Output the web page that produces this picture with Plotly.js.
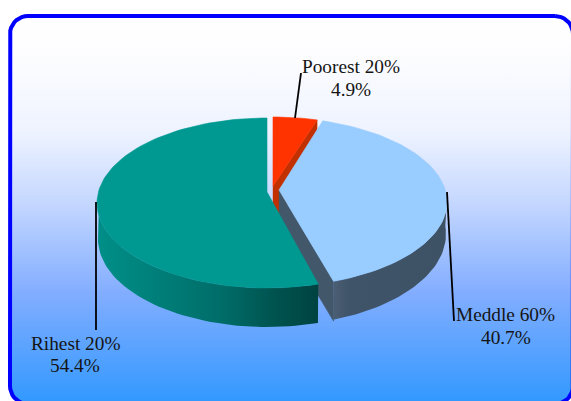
<!DOCTYPE html>
<html>
<head>
<meta charset="utf-8">
<script src="https://cdn.plot.ly/plotly-3.0.1.min.js"></script>
<style>html,body{margin:0;padding:0;background:#fff;overflow:hidden}#chart{width:571px;height:401px}</style>
</head>
<body>
<div id="chart"></div>
<script>
// Data
const categories = ['Poorest 20%', 'Meddle 60%', 'Rihest 20%'];
const shares = [4.9, 40.7, 54.4];

// Slice drawing styles and geometry (tilted pie on a chart plane matching the window)
const topColors = ['#ff3300', '#99ccff', '#009991'];
const centers = [[273, 202], [270, 202], [267, 203]];
const radii = [[170, 85], [177, 85], [170, 85]];
const floorCenters = [[273, 242], [270, 234], [267, 239]];
const floorRadii = [[170, 85], [176, 92], [169, 88]];
const vertices = [[273, 186], [279, 190], [267, 192]];
const angleNudgeStart = [0, -0.3, -1.7];
const angleNudgeEnd = [-2.6, -5.2, 0];
const depth = 40;

const labelCenters = [[351, 66, 89], [505.5, 314, 337], [75, 343, 365]];
const leaderX = [[295, 301], [447, 454], [96, 96]];
const leaderY = [[118, 73], [192, 321], [202, 330]];

const frameColor = '#0000ff';
const frameBox = [10, 16, 573, 404];
const frameR = 18;
const bgStops = [[0, '#ffffff'], [0.1, '#fdfdff'], [0.3, '#eef3ff'], [0.48, '#c6d8ff'], [0.72, '#82adff'], [1, '#3399ff']];

// Angles from the values, clockwise from 12 o'clock
const bounds = [];
let acc = 0;
shares.forEach((v, i) => {
  const s = acc * 3.6 + angleNudgeStart[i];
  acc += v;
  bounds.push([s, acc * 3.6 + angleNudgeEnd[i]]);
});

function arc(c, r, a0, a1) {
  const xs = [], ys = [];
  const n = Math.max(2, Math.ceil(Math.abs(a1 - a0) / 2));
  for (let k = 0; k <= n; k++) {
    const t = (a0 + (a1 - a0) * k / n) * Math.PI / 180;
    xs.push(c[0] + r[0] * Math.sin(t));
    ys.push(c[1] - r[1] * Math.cos(t));
  }
  return [xs, ys];
}
function poly(xs, ys, color, grad, lw) {
  const t = {x: xs, y: ys, type: 'scatter', mode: 'lines', fill: 'toself',
    line: {width: lw || 0, color: color}, fillcolor: color, hoverinfo: 'skip'};
  if (grad) t.fillgradient = grad;
  return t;
}
function topFace(i) {
  const [xs, ys] = arc(centers[i], radii[i], bounds[i][0], bounds[i][1]);
  return poly([vertices[i][0], ...xs, vertices[i][0]], [vertices[i][1], ...ys, vertices[i][1]], topColors[i], null, 0.6);
}
function outerWall(i, rimFrom, floorFrom, tip, color, grad) {
  const [xs, ys] = arc(centers[i], radii[i], rimFrom, tip);
  const [xb, yb] = arc(floorCenters[i], floorRadii[i], tip, floorFrom);
  return poly([...xs, ...xb, xs[0]], [...ys, ...yb, ys[0]], color, grad);
}
function sideWall(i, a, color) {
  const [xs, ys] = arc(centers[i], radii[i], a, a);
  const x = xs[0], y = ys[0], vx = vertices[i][0], vy = vertices[i][1];
  return poly([vx, x, x, vx, vx], [vy, y, y + depth, vy + depth, vy], color, null, 0.4);
}
function framePath() {
  const [l, t, r, b] = frameBox, R = frameR, xs = [], ys = [];
  const corners = [[r - R, t + R, -90], [r - R, b - R, 0], [l + R, b - R, 90], [l + R, t + R, 180]];
  corners.forEach(c => {
    for (let d = 0; d <= 90; d += 10) {
      const a = (c[2] + d) * Math.PI / 180;
      xs.push(c[0] + R * Math.cos(a));
      ys.push(c[1] + R * Math.sin(a));
    }
  });
  xs.push(xs[0]); ys.push(ys[0]);
  return [xs, ys];
}

const [fx, fy] = framePath();
const traces = [];
traces.push({x: fx, y: fy, type: 'scatter', mode: 'lines', fill: 'toself',
  line: {color: frameColor, width: 4}, hoverinfo: 'skip',
  fillgradient: {type: 'vertical', start: frameBox[1], stop: 401, colorscale: bgStops}});

// Poorest
traces.push(sideWall(0, bounds[0][1], '#c23000'));
traces.push(topFace(0));
// Meddle
traces.push(sideWall(1, bounds[1][1], '#425769'));
traces.push(outerWall(1, 95, 85, bounds[1][1], '#3f5468',
  {type: 'horizontal', colorscale: [[0, '#4a5f75'], [0.06, '#46596f'], [0.15, '#3f5468'], [1, '#3e5266']]}));
traces.push(topFace(1));
// Rihest
traces.push(outerWall(2, 262, 275, bounds[2][0], '#00736f',
  {type: 'horizontal', colorscale: [[0, '#008f88'], [0.56, '#006d69'], [0.8, '#00534f'], [1, '#004341']]}));
traces.push(topFace(2));

// Leader lines
leaderX.forEach((lx, i) => traces.push({x: lx, y: leaderY[i], type: 'scatter', mode: 'lines',
  line: {color: '#000000', width: 1.8}, hoverinfo: 'skip'}));

const annotations = [];
categories.forEach((c, i) => {
  const base = {xref: 'x', yref: 'y', x: labelCenters[i][0], showarrow: false, xanchor: 'center', yanchor: 'middle',
    font: {family: '"Liberation Serif", serif', size: 19.3, color: '#141414'}};
  annotations.push(Object.assign({}, base, {y: labelCenters[i][1], text: c}));
  annotations.push(Object.assign({}, base, {y: labelCenters[i][2], text: shares[i].toFixed(1) + '%'}));
});

const layout = {
  width: 571, height: 401, margin: {l: 0, r: 0, t: 0, b: 0},
  paper_bgcolor: '#ffffff', plot_bgcolor: 'rgba(0,0,0,0)', showlegend: false,
  xaxis: {range: [0, 571], visible: false, fixedrange: true},
  yaxis: {range: [401, 0], visible: false, fixedrange: true},
  annotations: annotations
};
Plotly.newPlot('chart', traces, layout, {displayModeBar: false, staticPlot: true});
</script>
</body>
</html>
